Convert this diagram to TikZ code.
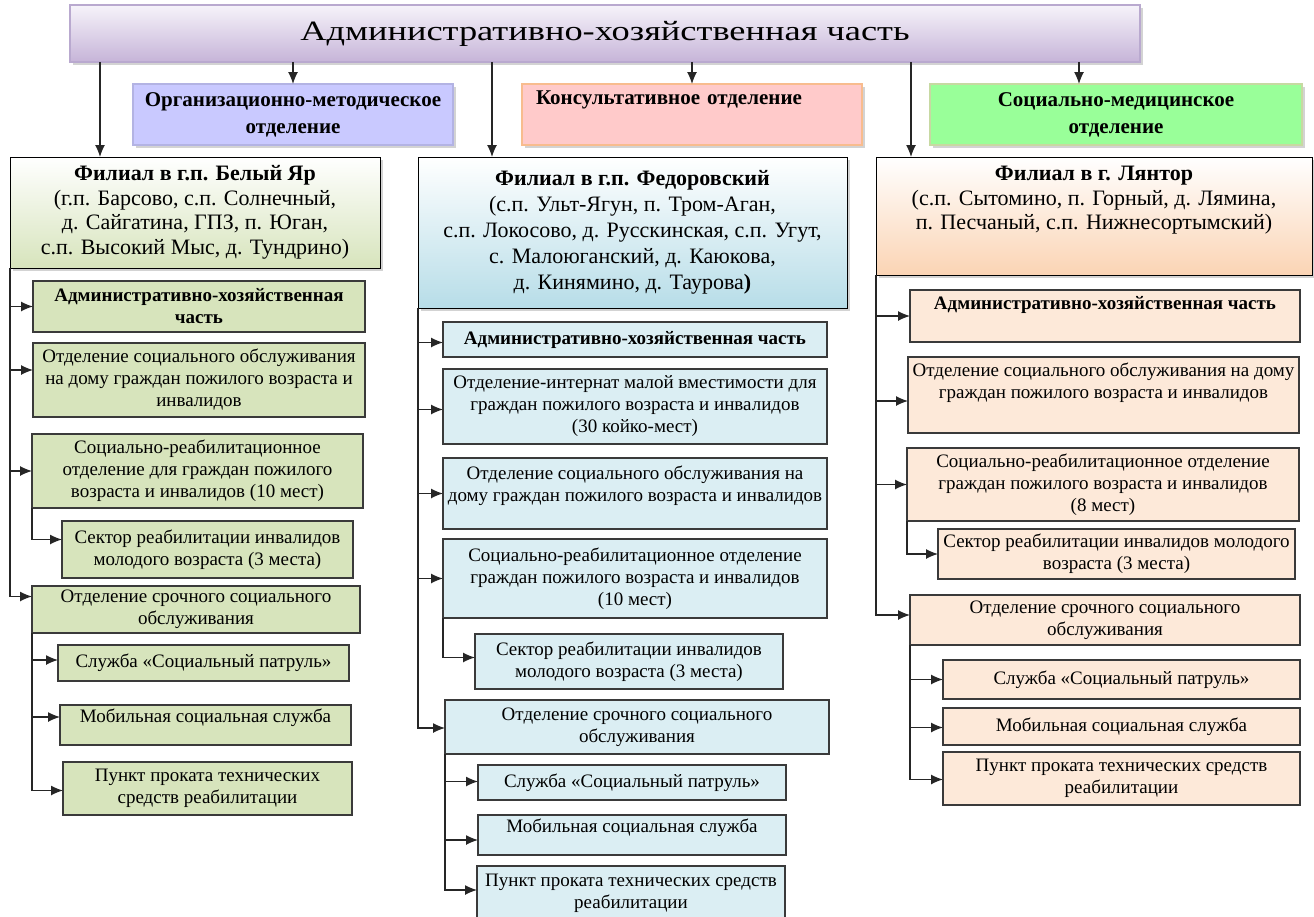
\documentclass[tikz,border=0pt]{standalone}
\usepackage{fontspec}
\setmainfont{Liberation Serif}
\usetikzlibrary{arrows.meta,shadows}
\definecolor{hdrtop}{HTML}{F6F3FA}
\definecolor{hdrbot}{HTML}{C6B4D8}
\definecolor{hdrline}{HTML}{B9A9CF}
\definecolor{orgfill}{HTML}{C9C9FF}
\definecolor{orgline}{HTML}{B3B3E3}
\definecolor{konfill}{HTML}{FFCACA}
\definecolor{konline}{HTML}{F8BC8E}
\definecolor{smfill}{HTML}{99FF99}
\definecolor{smline}{HTML}{C7D9A2}
\definecolor{gfill}{HTML}{D7E4BC}
\definecolor{bfill}{HTML}{DBEEF3}
\definecolor{bgrad}{HTML}{B7DDE8}
\definecolor{pfill}{HTML}{FDE9D9}
\definecolor{pgrad}{HTML}{FBD4B4}
\definecolor{boxline}{HTML}{3A3A3A}
\newcommand\bx[7]{\node[#6, anchor=north west, minimum width={(#4-#2)*1pt}, minimum height={(#5-#3)*1pt}] (#1) at (#2,-#3) {#7};}
\begin{document}
\begin{tikzpicture}[x=1pt,y=1pt,
  every node/.style={inner sep=1pt, outer sep=0pt},
  shad/.style={drop shadow={opacity=0.35, shadow xshift=2.5pt, shadow yshift=-3pt}},
  dept/.style={shad, align=center, line width=2.2pt, font=\fontsize{21}{27}\selectfont\bfseries},
  branch/.style={shad, draw=black, line width=1pt, align=center, font=\fontsize{22}{24.5}\selectfont},
  child/.style={draw=boxline, line width=1.1pt, align=center, font=\fontsize{19}{22}\selectfont},
  cg/.style={child, fill=gfill},
  cb/.style={child, fill=bfill},
  cp/.style={child, fill=pfill},
  bf/.style={font=\fontsize{19}{22}\selectfont\bfseries},
  up/.style={text depth=#1},
  arr/.style={draw=black!85, line width=1.2pt, -{Latex[length=12pt,width=10pt]}}
]
\useasboundingbox (0,0) rectangle (1314,-916);

% header
\bx{hdr}{70}{5}{1140}{62}{shad, draw=hdrline, line width=1.2pt, top color=hdrtop, bottom color=hdrbot, font=\fontsize{28}{34}\selectfont\addfontfeatures{FakeStretch=1.3}}{Административно-хозяйственная часть}

% departments
\bx{org}{133}{84}{453}{145}{dept, draw=orgline, fill=orgfill}{Организационно-методическое\\отделение}
\bx{kon}{522}{84}{862}{145}{dept, draw=konline, fill=konfill, align=left, text width=312pt, inner xsep=14pt, up=33pt}{Консультативное отделение}
\bx{sm}{930}{84}{1302}{145}{dept, draw=smline, fill=smfill}{Социально-медицинское\\отделение}

% branches
\bx{b1}{10}{157}{380}{268}{branch, top color=white, bottom color=gfill}{\textbf{Филиал в г.п. Белый Яр}\\(г.п. Барсово, с.п. Солнечный,\\д. Сайгатина, ГПЗ, п. Юган,\\с.п. Высокий Мыс, д. Тундрино)}
\bx{b2}{418}{157}{847}{308}{branch, top color=white, bottom color=bgrad, font=\fontsize{22}{26}\selectfont}{\textbf{Филиал в г.п. Федоровский}\\(с.п. Ульт-Ягун, п. Тром-Аган,\\с.п. Локосово, д. Русскинская, с.п. Угут,\\с. Малоюганский, д. Каюкова,\\д. Кинямино, д. Таурова\textbf{)}}
\bx{b3}{876}{157}{1312}{275}{branch, top color=white, bottom color=pgrad, up=36pt}{\textbf{Филиал в г. Лянтор}\\(с.п. Сытомино, п. Горный, д. Лямина,\\п. Песчаный, с.п. Нижнесортымский)}

% left column
\bx{la}{33}{281}{365}{332}{cg, bf}{Административно-хозяйственная\\часть}
\bx{lb}{33}{343}{365}{417}{cg}{Отделение социального обслуживания\\на дому граждан пожилого возраста и\\инвалидов}
\bx{lc}{32}{434}{363}{508}{cg}{Социально-реабилитационное\\отделение для граждан пожилого\\возраста и инвалидов (10 мест)}
\bx{ld}{62}{521}{353}{578}{cg}{Сектор реабилитации инвалидов\\молодого возраста (3 места)}
\bx{le}{32}{586}{360}{633}{cg}{Отделение срочного социального\\обслуживания}
\bx{lf}{58}{645}{349}{681}{cg}{Служба «Социальный патруль»}
\bx{lg}{60}{705}{351}{745}{cg, up=18pt}{Мобильная социальная служба}
\bx{lh}{63}{762}{352}{815}{cg}{Пункт проката технических\\средств реабилитации}

% middle column
\bx{ma}{443}{322}{827}{357}{cb, bf}{Административно-хозяйственная часть}
\bx{mb}{443}{369}{827}{444}{cb}{Отделение-интернат малой вместимости для\\граждан пожилого возраста и инвалидов\\(30 койко-мест)}
\bx{mc}{443}{458}{827}{529}{cb, up=20pt}{Отделение социального обслуживания на\\дому граждан пожилого возраста и инвалидов}
\bx{md}{443}{539}{827}{618}{cb}{Социально-реабилитационное отделение\\граждан пожилого возраста и инвалидов\\(10 мест)}
\bx{me}{475}{634}{783}{689}{cb}{Сектор реабилитации инвалидов\\молодого возраста (3 места)}
\bx{mf}{445}{700}{829}{754}{cb}{Отделение срочного социального\\обслуживания}
\bx{mg}{478}{765}{786}{800}{cb}{Служба «Социальный патруль»}
\bx{mh}{478}{815}{786}{855}{cb, up=18pt}{Мобильная социальная служба}
\bx{mi}{477}{866}{785}{920}{cb}{Пункт проката технических средств\\реабилитации}

% right column
\bx{ra}{910}{290}{1300}{342}{cp, bf, up=26pt}{Административно-хозяйственная часть}
\bx{rb}{908}{357}{1299}{433}{cp, up=28pt}{Отделение социального обслуживания на дому\\граждан пожилого возраста и инвалидов}
\bx{rc}{907}{448}{1299}{521}{cp}{Социально-реабилитационное отделение\\граждан пожилого возраста и инвалидов\\(8 мест)}
\bx{rd}{938}{529}{1295}{579}{cp}{Сектор реабилитации инвалидов молодого\\возраста (3 места)}
\bx{re}{910}{595}{1300}{645}{cp}{Отделение срочного социального\\обслуживания}
\bx{rf}{943}{660}{1300}{699}{cp}{Служба «Социальный патруль»}
\bx{rg}{943}{708}{1300}{745}{cp}{Мобильная социальная служба}
\bx{rh}{943}{752}{1300}{805}{cp}{Пункт проката технических средств\\реабилитации}

% arrows from header
\coordinate (x1) at (100,0);
\coordinate (x2) at (492,0);
\coordinate (x3) at (911,0);
\coordinate (x4) at (1079,0);
\draw[arr] (hdr.south -| x1) -- (b1.north -| x1);
\draw[arr] (hdr.south -| org.north) -- (org.north);
\draw[arr] (hdr.south -| x2) -- (b2.north -| x2);
\draw[arr] (hdr.south -| kon.north) -- (kon.north);
\draw[arr] (hdr.south -| x3) -- (b3.north -| x3);
\draw[arr] (hdr.south -| x4) -- (sm.north -| x4);

% left tree
\draw[arr] (b1.south west) |- (la.west);
\draw[arr] (b1.south west) |- ([yshift=10pt]lb.west);
\draw[arr] (b1.south west) |- (lc.west);
\draw[arr] (b1.south west) |- ([yshift=13pt]le.west);
\draw[arr] (lc.south west) |- ([yshift=10pt]ld.west);
\draw[arr] (le.south west) |- ([yshift=3pt]lf.west);
\draw[arr] (le.south west) |- ([yshift=8pt]lg.west);
\draw[arr] (le.south west) |- ([yshift=-2pt]lh.west);

% middle tree
\draw[arr] (b2.south west) |- ([yshift=-3pt]ma.west);
\draw[arr] (b2.south west) |- ([yshift=-3pt]mb.west);
\draw[arr] (b2.south west) |- (mc.west);
\draw[arr] (b2.south west) |- (md.west);
\draw[arr] (b2.south west) |- ([yshift=-1pt]mf.west);
\draw[arr] (md.south west) |- ([yshift=4pt]me.west);
\draw[arr] (mf.south west) |- ([yshift=1pt]mg.west);
\draw[arr] (mf.south west) |- ([yshift=-5pt]mh.west);
\draw[arr] (mf.south west) |- ([yshift=3pt]mi.west);

% right tree
\draw[arr] (b3.south west) |- (ra.west);
\draw[arr] (b3.south west) |- ([yshift=-6pt]rb.west);
\draw[arr] (b3.south west) |- (rc.west);
\draw[arr] (b3.south west) |- ([yshift=5pt]re.west);
\draw[arr] (rc.south west) |- (rd.west);
\draw[arr] (re.south west) |- (rf.west);
\draw[arr] (re.south west) |- ([yshift=-1pt]rg.west);
\draw[arr] (re.south west) |- ([yshift=-1pt]rh.west);
\end{tikzpicture}
\end{document}
